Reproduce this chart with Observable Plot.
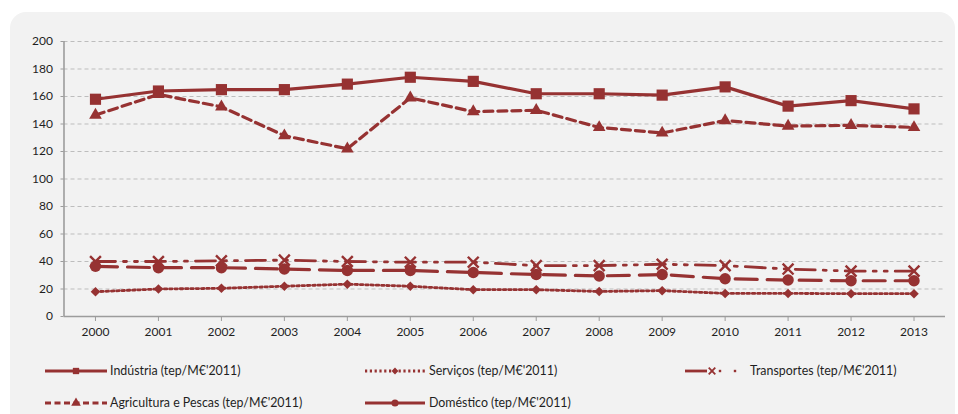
<!DOCTYPE html>
<html>
<head>
<meta charset="utf-8">
<script src="https://cdn.jsdelivr.net/npm/d3@7"></script>
<script src="https://cdn.jsdelivr.net/npm/@observablehq/plot@0.6"></script>
<style>
  html, body { margin: 0; padding: 0; background: #ffffff; }
  body { width: 958px; height: 414px; position: relative; overflow: hidden; font-family: Lato, "Open Sans", sans-serif; }
  #panel { position: absolute; left: 10px; top: 12px; width: 945px; height: 430px; background: #f2f2f2; border-radius: 16px; }
  #chart { position: absolute; left: 0; top: 0; }
  #legend { position: absolute; left: 0; top: 350px; }
</style>
</head>
<body>
<div id="panel"></div>
<div id="chart"></div>
<div id="legend"></div>
<script>
// Energy intensity by sector, 2000–2013 (tep per M€ at 2011 prices)
const years       = [2000, 2001, 2002, 2003, 2004, 2005, 2006, 2007, 2008, 2009, 2010, 2011, 2012, 2013];
const industria   = [158, 164, 165, 165, 169, 174, 171, 162, 162, 161, 167, 153, 157, 151];
const servicos    = [18, 20, 20.5, 22, 23.5, 22, 19.5, 19.5, 18.2, 18.8, 16.8, 16.8, 16.6, 16.6];
const transportes = [40, 40, 40.5, 41, 40, 39.5, 39.5, 37, 37, 38, 37, 34.5, 33, 33];
const agricultura = [146.5, 161.5, 152.5, 131.5, 122, 159, 149, 150, 137.5, 133.5, 142.5, 138.5, 139, 137.5];
const domestico   = [36.5, 35.5, 35.5, 34.5, 33.5, 33.5, 32, 30.5, 29.5, 30.5, 27.5, 26.5, 26, 26];
const yTicks      = [0, 20, 40, 60, 80, 100, 120, 140, 160, 180, 200];

const seriesNames = [
  "Indústria (tep/M€'2011)",
  "Serviços (tep/M€'2011)",
  "Transportes (tep/M€'2011)",
  "Agricultura e Pescas (tep/M€'2011)",
  "Doméstico (tep/M€'2011)"
];
const seriesValues = [industria, servicos, transportes, agricultura, domestico];

const red = "#963232";

// line and marker style for each series
const styles = [
  {dash: null,              width: 3.2, symbol: "square",   r: 6.3, fill: red,  stroke: "none", sw: 0},
  {dash: "2.5,2.8",         width: 2.8, symbol: "diamond2", r: 4.3, fill: red,  stroke: "none", sw: 0},
  {dash: "20,8,3,8,3,8",    width: 2.8, symbol: "times",    r: 5,   fill: "none", stroke: red, sw: 2.4},
  {dash: "9,5",             width: 3.2, symbol: "triangle", r: 4.7, fill: red,  stroke: "none", sw: 0},
  {dash: "22,10",           width: 3.2, symbol: "circle",   r: 5.7, fill: red,  stroke: "none", sw: 0}
];

const rows = seriesNames.map((name, i) =>
  years.map((year, j) => ({series: name, year, value: seriesValues[i][j]})));

const lineMarks = rows.map((data, i) => Plot.line(data, {
  x: "year", y: "value", stroke: red, strokeWidth: styles[i].width,
  strokeDasharray: styles[i].dash, strokeLinejoin: "round"
}));
const dotMarks = rows.map((data, i) => Plot.dot(data, {
  x: "year", y: "value", symbol: () => styles[i].symbol, r: styles[i].r,
  fill: styles[i].fill, stroke: styles[i].stroke, strokeWidth: styles[i].sw
}));

const chart = Plot.plot({
  width: 958,
  height: 345,
  marginLeft: 63.5,
  marginRight: 13,
  marginTop: 41,
  marginBottom: 29,
  style: {background: "transparent", fontFamily: "Lato, 'Open Sans', sans-serif", fontSize: "12px", overflow: "visible"},
  x: {type: "linear", domain: [years[0] - 0.5, years[years.length - 1] + 0.5]},
  y: {domain: [0, 200]},
  symbol: {type: "identity"},
  marks: [
    Plot.gridY(yTicks.filter(d => d > 0), {stroke: "#bdbdbd", strokeOpacity: 1, strokeDasharray: "4,3", strokeWidth: 1}),
    Plot.ruleY([0], {stroke: "#9c9c9c", strokeWidth: 1.6}),
    Plot.ruleX([years[0] - 0.5], {stroke: "#9c9c9c", strokeWidth: 1.6}),
    Plot.axisY(yTicks, {tickSize: 3, tickPadding: 8, stroke: "#9c9c9c", fill: "#1f1f1f", label: null}),
    Plot.axisX(years, {tickSize: 5, tickPadding: 6, stroke: "#9c9c9c", fill: "#1f1f1f", tickFormat: d => String(d), label: null}),
    ...lineMarks,
    ...dotMarks
  ]
});
document.getElementById("chart").appendChild(chart);

// legend drawn with d3 underneath the chart
const legendItems = [
  {i: 0, x0: 45,  x1: 107, tx: 110, y: 21},
  {i: 1, x0: 365, x1: 425, tx: 429, y: 21},
  {i: 2, x0: 685, x1: 737, tx: 750, y: 21},
  {i: 3, x0: 45,  x1: 107, tx: 110, y: 53},
  {i: 4, x0: 365, x1: 425, tx: 429, y: 53}
];
const symbolTypes = {square: d3.symbolSquare, diamond2: d3.symbolDiamond2, times: d3.symbolTimes, triangle: d3.symbolTriangle, circle: d3.symbolCircle};
const legendDash = ["", "2.2,2.6", "", "6,3.5", ""];
const lg = d3.select("#legend").append("svg").attr("width", 958).attr("height", 64)
  .style("font-family", "Lato, 'Open Sans', sans-serif").style("font-size", "12.4px");
for (const it of legendItems) {
  const st = styles[it.i];
  const g = lg.append("g");
  if (it.i === 2) {
    // solid lead-in, marker, then the dotted tail of the dash-dot pattern
    g.append("line").attr("x1", it.x0).attr("x2", it.x0 + 22).attr("y1", it.y).attr("y2", it.y)
      .attr("stroke", red).attr("stroke-width", 2.8);
    for (const dx of [35, 50]) {
      g.append("rect").attr("x", it.x0 + dx - 1.2).attr("y", it.y - 1.2).attr("width", 2.4).attr("height", 2.4).attr("fill", red);
    }
    g.append("path").attr("transform", `translate(${it.x0 + 27},${it.y})`)
      .attr("d", d3.symbol(symbolTypes[st.symbol], 30)()).attr("fill", "none").attr("stroke", red).attr("stroke-width", 1.8);
  } else {
    g.append("line").attr("x1", it.x0).attr("x2", it.x1).attr("y1", it.y).attr("y2", it.y)
      .attr("stroke", red).attr("stroke-width", st.width).attr("stroke-dasharray", legendDash[it.i] || null);
    const size = it.i === 1 ? 30 : 40;
    g.append("path").attr("transform", `translate(${(it.x0 + it.x1) / 2},${it.y})`)
      .attr("d", d3.symbol(symbolTypes[st.symbol], size)()).attr("fill", red);
  }
  g.append("text").attr("x", it.tx).attr("y", it.y).attr("dy", "0.35em").attr("fill", "#1f1f1f")
    .text(seriesNames[it.i]);
}
</script>
</body>
</html>
